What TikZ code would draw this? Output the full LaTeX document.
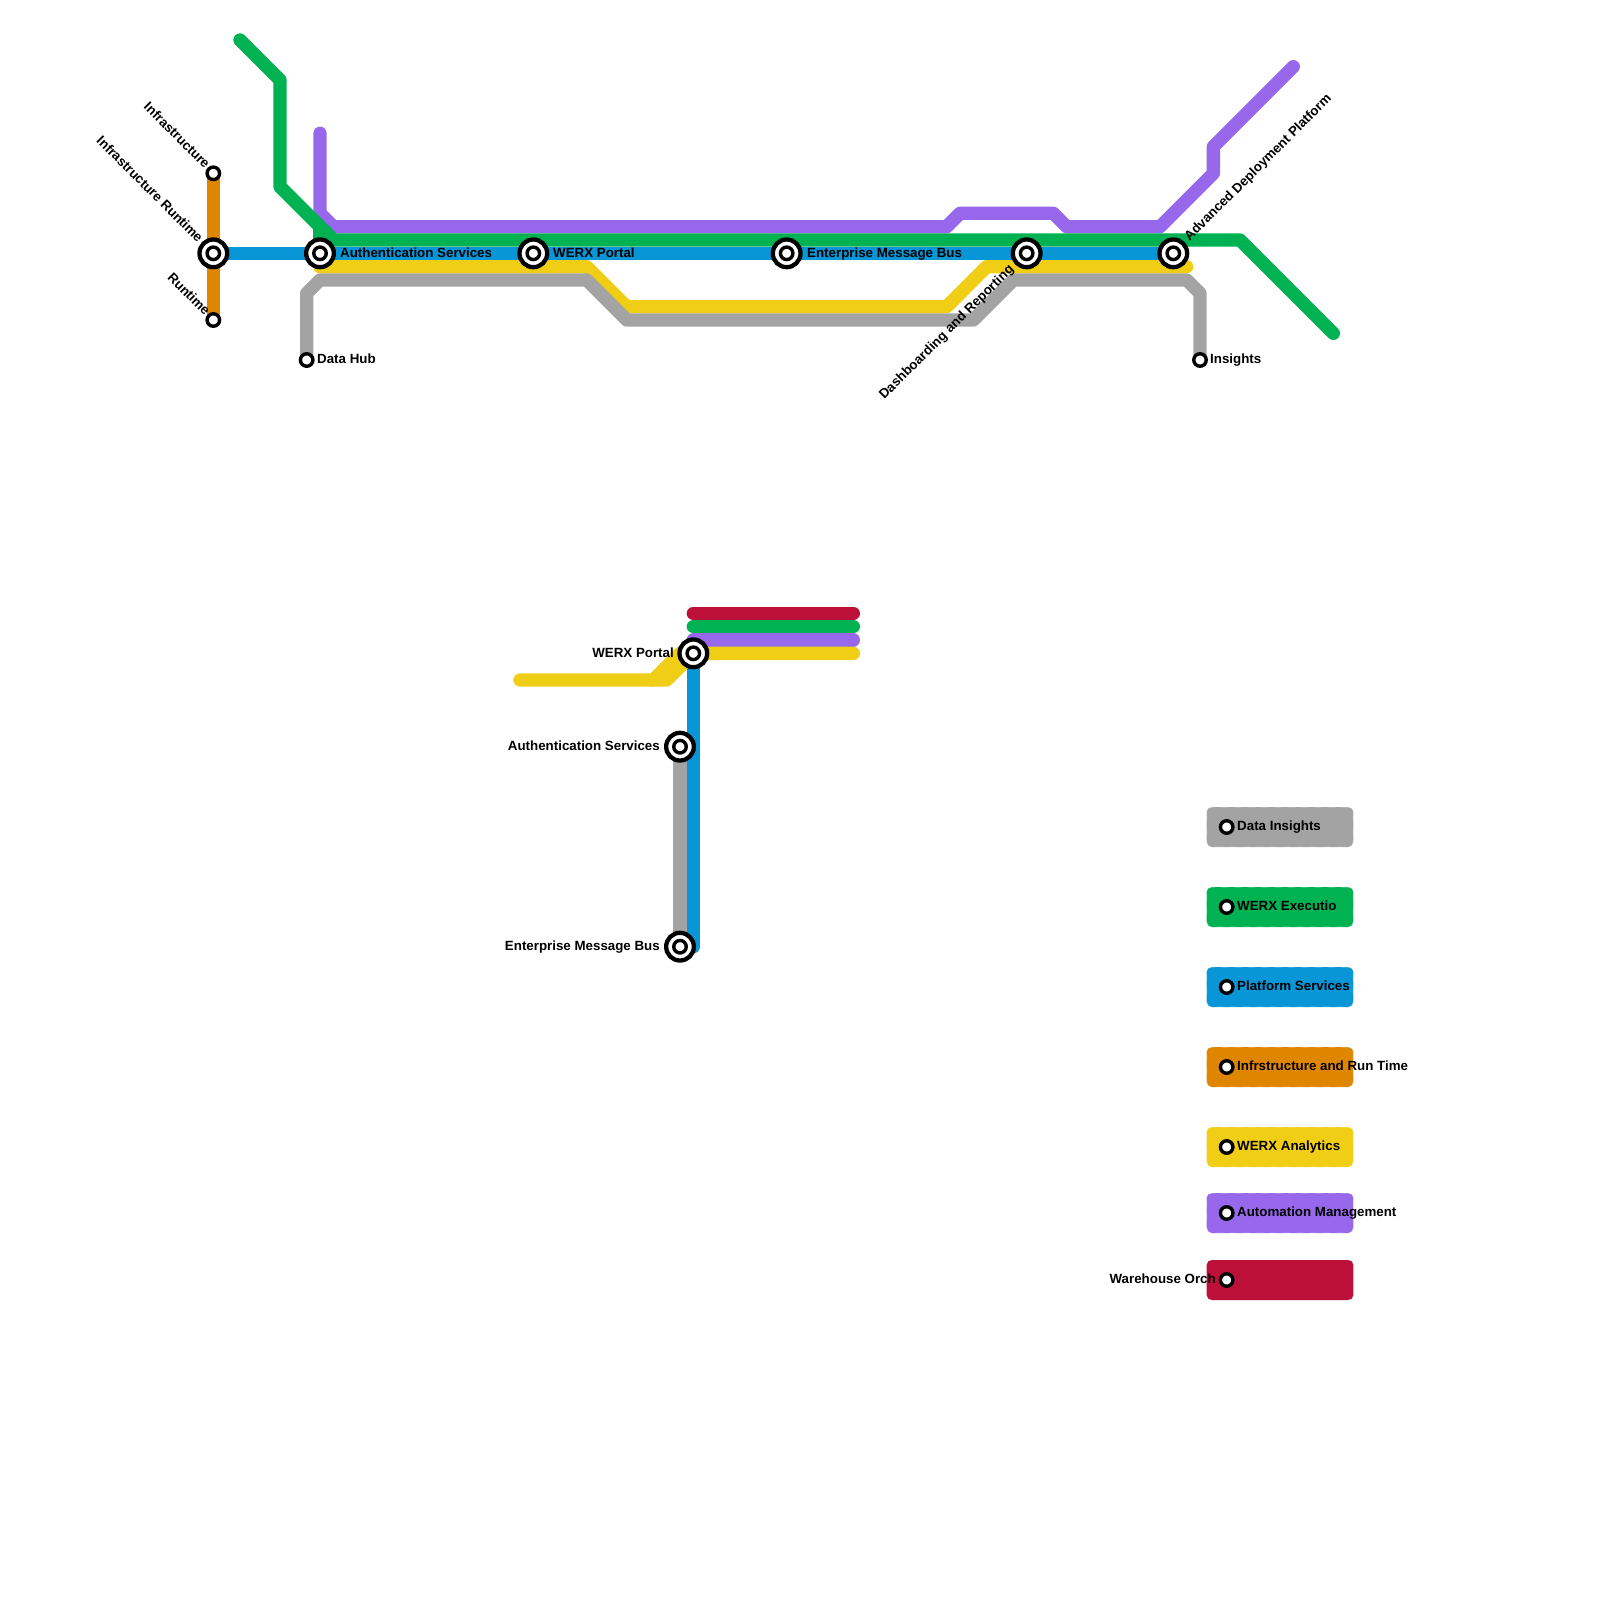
\documentclass[tikz,border=0pt]{standalone}
\usepackage{fontspec}
\setmainfont{Liberation Sans}
\usetikzlibrary{backgrounds}
\definecolor{mapgrey}{HTML}{A3A3A3}
\definecolor{mapgreen}{HTML}{00B251}
\definecolor{mapblue}{HTML}{0896D7}
\definecolor{maporange}{HTML}{DF8600}
\definecolor{mapyellow}{HTML}{F0CE15}
\definecolor{mappurple}{HTML}{9768EC}
\definecolor{mapred}{HTML}{BD1038}
\tikzset{
  route/.style={line width=13.33pt,line cap=round,line join=round},
  hub/.style={circle,draw=black,fill=white,line width=4.3pt,minimum size=27.7pt,inner sep=0pt,outer sep=0pt},
  stop/.style={circle,draw=black,fill=white,line width=3.4pt,minimum size=12.5pt,inner sep=0pt,outer sep=0pt},
  lbl/.style={inner sep=0pt,text=black,font=\fontsize{13.33pt}{15pt}\selectfont\bfseries},
  key/.style={rounded corners=5pt,minimum width=146.67pt,minimum height=40pt,inner sep=0pt,draw=white,draw opacity=0.3,line width=1pt,dash pattern=on 6.67pt off 6.67pt},
}
\begin{document}
\begin{tikzpicture}[x=1pt,y=-1pt]
\useasboundingbox (0,0) rectangle (1600,1600);
\node[key,fill=mapgrey] (keyGrey) at (1280,827) {};
\node[key,fill=mapgreen] (keyGreen) at (1280,907) {};
\node[key,fill=mapblue] (keyBlue) at (1280,987) {};
\node[key,fill=maporange] (keyOrange) at (1280,1067) {};
\node[key,fill=mapyellow] (keyYellow) at (1280,1147) {};
\node[key,fill=mappurple] (keyPurple) at (1280,1213) {};
\node[key,fill=mapred,draw=none] (keyRed) at (1280,1280) {};
\node[stop] (Infrastructure) at (213.33,173.33) {};
\node[hub] (InfraRuntime) at (213.33,253.33) {};
\node[stop] (InfraRuntimeIn) at (InfraRuntime) {};
\node[stop] (Runtime) at (213.33,320) {};
\node[hub] (AuthSvc) at (320,253.33) {};
\node[stop] (AuthSvcIn) at (AuthSvc) {};
\node[hub] (Portal) at (533.33,253.33) {};
\node[stop] (PortalIn) at (Portal) {};
\node[hub] (MsgBus) at (786.67,253.33) {};
\node[stop] (MsgBusIn) at (MsgBus) {};
\node[hub] (Dashboard) at (1026.67,253.33) {};
\node[stop] (DashboardIn) at (Dashboard) {};
\node[hub] (Deploy) at (1173.33,253.33) {};
\node[stop] (DeployIn) at (Deploy) {};
\node[stop] (DataHub) at (306.67,360) {};
\node[stop] (Insights) at (1200,360) {};
\node[hub] (PortalB) at (693.33,653.33) {};
\node[stop] (PortalBIn) at (PortalB) {};
\node[hub] (AuthSvcB) at (680,746.67) {};
\node[stop] (AuthSvcBIn) at (AuthSvcB) {};
\node[hub] (MsgBusB) at (680,946.67) {};
\node[stop] (MsgBusBIn) at (MsgBusB) {};
\node[stop] (stopGrey) at (1226.67,827) {};
\node[stop] (stopGreen) at (1226.67,907) {};
\node[stop] (stopBlue) at (1226.67,987) {};
\node[stop] (stopOrange) at (1226.67,1067) {};
\node[stop] (stopYellow) at (1226.67,1147) {};
\node[stop] (stopPurple) at (1226.67,1213) {};
\node[stop] (stopRed) at (1226.67,1280) {};
\coordinate (grA) at (240,40);
\coordinate (grB) at (280,80);
\coordinate (grC) at (280,186.67);
\coordinate (grD) at (333.33,240);
\coordinate (grE) at (1240,240);
\coordinate (grF) at (1333.33,333.33);
\coordinate (grG) at (320,226.67);
\coordinate (grH) at (320,240);
\coordinate (puA) at (320,133.33);
\coordinate (puB) at (320,213.33);
\coordinate (puC) at (333.33,226.67);
\coordinate (puD) at (946.67,226.67);
\coordinate (puE) at (960,213.33);
\coordinate (puF) at (1053.33,213.33);
\coordinate (puG) at (1066.67,226.67);
\coordinate (puH) at (1160,226.67);
\coordinate (puI) at (1213.33,173.33);
\coordinate (puJ) at (1213.33,146.67);
\coordinate (puK) at (1293.33,66.67);
\coordinate (yeA) at (320,266.67);
\coordinate (yeB) at (586.67,266.67);
\coordinate (yeC) at (626.67,306.67);
\coordinate (yeD) at (946.67,306.67);
\coordinate (yeE) at (986.67,266.67);
\coordinate (yeF) at (1186.67,266.67);
\coordinate (gyA) at (306.67,293.33);
\coordinate (gyB) at (320,280);
\coordinate (gyC) at (586.67,280);
\coordinate (gyD) at (626.67,320);
\coordinate (gyE) at (973.33,320);
\coordinate (gyF) at (1013.33,280);
\coordinate (gyG) at (1186.67,280);
\coordinate (gyH) at (1200,293.33);
\coordinate (lnA) at (693.33,613.33);
\coordinate (lnB) at (853.33,613.33);
\coordinate (lnC) at (693.33,626.67);
\coordinate (lnD) at (853.33,626.67);
\coordinate (lnE) at (693.33,640);
\coordinate (lnF) at (853.33,640);
\coordinate (lnG) at (853.33,653.33);
\coordinate (lnH) at (520,680);
\coordinate (lnI) at (666.67,680);
\coordinate (lnJ) at (653.33,680);
\coordinate (lnK) at (680,653.33);
\coordinate (lnL) at (693.33,946.67);
\begin{scope}[on background layer]
\draw[route,maporange] (Infrastructure.center) -- (Runtime.center);
\draw[route,mapgreen] (grG) -- (grH);
\draw[route,mappurple] (puA) -- (puB) -- (puC) -- (puD) -- (puE) -- (puF) -- (puG) -- (puH) -- (puI) -- (puJ) -- (puK);
\draw[route,mapgreen] (grA) -- (grB) -- (grC) -- (grD) -- (grE) -- (grF);
\draw[route,mapyellow] (yeA) -- (yeB) -- (yeC) -- (yeD) -- (yeE) -- (yeF);
\draw[route,mapblue] (InfraRuntime.center) -- (AuthSvc.center) -- (Portal.center) -- (MsgBus.center) -- (Dashboard.center) -- (Deploy.center);
\draw[route,mapgrey] (DataHub.center) -- (gyA) -- (gyB) -- (gyC) -- (gyD) -- (gyE) -- (gyF) -- (gyG) -- (gyH) -- (Insights.center);
\draw[route,mapred] (lnA) -- (lnB);
\draw[route,mapgreen] (lnC) -- (lnD);
\draw[route,mappurple] (lnE) -- (lnF);
\draw[route,mapblue] (PortalB.center) -- (lnL);
\draw[route,mapgrey] (AuthSvcB.center) -- (MsgBusB.center);
\draw[route,mapyellow] (lnH) -- (lnI) -- (PortalB.center) -- (lnG);
\draw[route,mapyellow] (lnJ) -- (lnK);
\end{scope}
\node[lbl,anchor=east,rotate=-45] (lblInfra) at (208,166) {Infrastructure};
\node[lbl,anchor=east,rotate=-45] (lblRuntimeA) at (201,240) {Infrastructure Runtime};
\node[lbl,anchor=east,rotate=-45] (lblRuntimeB) at (208,313) {Runtime};
\node[lbl,anchor=base west] (lblAuth) at (340,257) {Authentication Services};
\node[lbl,anchor=base west] (lblPortal) at (553,257) {WERX Portal};
\node[lbl,anchor=base west] (lblBus) at (807,257) {Enterprise Message Bus};
\node[lbl,anchor=east,rotate=45] (lblDash) at (1012,267.5) {Dashboarding and Reporting};
\node[lbl,anchor=west,rotate=45] (lblDeploy) at (1187,239.5) {Advanced Deployment Platform};
\node[lbl,anchor=base west] (lblHub) at (317,363.7) {Data Hub};
\node[lbl,anchor=base west] (lblInsights) at (1210,363.7) {Insights};
\node[lbl,anchor=base east] (lblPortalB) at (674,657) {WERX Portal};
\node[lbl,anchor=base east] (lblAuthB) at (660,750.4) {Authentication Services};
\node[lbl,anchor=base east] (lblBusB) at (660,950.4) {Enterprise Message Bus};
\node[lbl,anchor=base west] (lblGrey) at (1237,830.7) {Data Insights};
\node[lbl,anchor=base west] (lblGreen) at (1237,910.7) {WERX Executio};
\node[lbl,anchor=base west] (lblBlue) at (1237,990.7) {Platform Services};
\node[lbl,anchor=base west] (lblOrange) at (1237,1070.7) {Infrstructure and Run Time};
\node[lbl,anchor=base west] (lblYellow) at (1237,1150.7) {WERX Analytics};
\node[lbl,anchor=base west] (lblPurple) at (1237,1216.7) {Automation Management};
\node[lbl,anchor=base east] (lblRed) at (1216,1283.7) {Warehouse Orch};
\end{tikzpicture}
\end{document}
